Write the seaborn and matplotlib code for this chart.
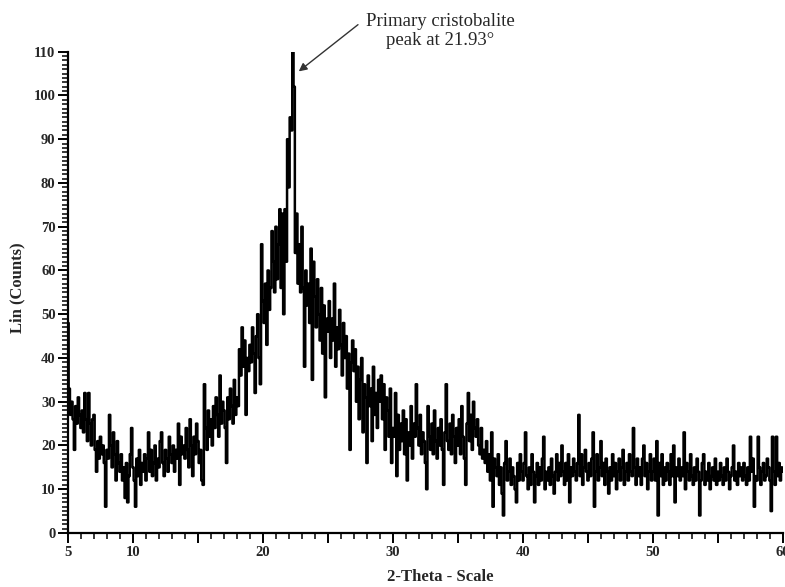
import numpy as np
import pandas as pd
import matplotlib
matplotlib.use("Agg")
import matplotlib.pyplot as plt
from matplotlib.ticker import MultipleLocator, FixedLocator, FuncFormatter
import seaborn as sns

# XRD scan: 2-theta from 5 to 60 deg, 0.1 deg step, one row per degree
theta_start = 5.0
theta_step = 0.1
counts_by_degree = [
    [48, 33, 27, 30, 26, 19, 29, 25, 31, 27],   # 5
    [24, 28, 23, 32, 26, 21, 32, 25, 20, 26],   # 6
    [27, 19, 14, 21, 17, 22, 18, 20, 16, 6],    # 7
    [19, 17, 27, 20, 15, 23, 18, 12, 21, 16],   # 8
    [14, 18, 12, 15, 8, 16, 7, 13, 18, 24],     # 9
    [15, 12, 6, 17, 13, 19, 11, 16, 14, 18],    # 10
    [12, 17, 23, 14, 19, 13, 16, 20, 12, 17],   # 11
    [15, 21, 23, 16, 13, 19, 17, 14, 22, 18],   # 12
    [16, 20, 14, 19, 17, 25, 11, 22, 18, 20],   # 13
    [17, 24, 19, 15, 26, 20, 13, 22, 18, 25],   # 14
    [21, 16, 19, 12, 11, 34, 24, 19, 28, 22],   # 15
    [26, 20, 29, 24, 31, 27, 22, 36, 25, 30],   # 16
    [28, 24, 16, 31, 26, 33, 29, 25, 35, 27],   # 17
    [31, 29, 42, 36, 47, 38, 44, 27, 40, 37],   # 18
    [43, 39, 47, 41, 32, 45, 50, 40, 34, 66],   # 19
    [53, 48, 57, 43, 60, 51, 56, 69, 62, 55],   # 20
    [70, 58, 66, 74, 56, 73, 50, 74, 62, 90],   # 21
    [79, 95, 92, 110, 102, 64, 73, 57, 66, 55], # 22
    [70, 56, 38, 60, 52, 57, 48, 65, 35, 62],   # 23
    [54, 47, 58, 50, 44, 56, 41, 52, 31, 49],   # 24
    [46, 53, 40, 49, 44, 57, 38, 47, 42, 51],   # 25
    [43, 36, 48, 40, 45, 33, 41, 19, 39, 44],   # 26
    [37, 42, 30, 38, 26, 35, 40, 23, 34, 31],   # 27
    [16, 36, 29, 33, 21, 38, 27, 32, 24, 35],   # 28
    [30, 36, 26, 34, 19, 31, 28, 22, 33, 16],   # 29
    [24, 22, 32, 13, 27, 19, 25, 21, 28, 18],   # 30
    [26, 12, 23, 20, 29, 17, 25, 22, 34, 24],   # 31
    [20, 27, 18, 23, 21, 16, 10, 29, 22, 19],   # 32
    [25, 18, 28, 21, 17, 24, 20, 26, 19, 11],   # 33
    [23, 34, 21, 19, 25, 18, 27, 22, 16, 24],   # 34
    [20, 26, 18, 29, 22, 17, 11, 25, 32, 21],   # 35
    [27, 19, 30, 24, 22, 26, 20, 18, 24, 17],   # 36
    [19, 16, 21, 14, 18, 12, 23, 6, 17, 15],    # 37
    [13, 18, 11, 15, 9, 4, 16, 21, 12, 14],     # 38
    [17, 11, 15, 13, 10, 7, 16, 12, 18, 14],    # 39
    [12, 16, 23, 13, 10, 15, 11, 18, 14, 7],    # 40
    [13, 16, 11, 15, 12, 17, 22, 10, 14, 12],   # 41
    [15, 11, 17, 13, 9, 14, 18, 12, 16, 13],    # 42
    [20, 14, 11, 16, 12, 18, 7, 15, 13, 17],    # 43
    [14, 12, 16, 27, 13, 18, 11, 15, 19, 14],   # 44
    [12, 16, 13, 17, 23, 6, 14, 18, 12, 15],    # 45
    [21, 13, 16, 11, 17, 14, 9, 15, 12, 18],    # 46
    [13, 16, 10, 14, 17, 12, 15, 19, 11, 14],   # 47
    [16, 12, 18, 14, 13, 24, 15, 11, 17, 13],   # 48
    [15, 11, 17, 20, 13, 16, 10, 14, 18, 12],   # 49
    [14, 17, 12, 21, 4, 16, 13, 18, 11, 15],    # 50
    [12, 16, 14, 11, 18, 13, 20, 7, 15, 13],    # 51
    [17, 12, 15, 13, 23, 10, 16, 14, 12, 18],   # 52
    [13, 11, 15, 12, 17, 14, 4, 12, 16, 18],    # 53
    [11, 14, 12, 16, 10, 13, 15, 12, 17, 11],   # 54
    [14, 12, 16, 13, 11, 15, 12, 17, 14, 10],   # 55
    [13, 15, 20, 12, 14, 11, 16, 13, 15, 12],   # 56
    [16, 13, 11, 15, 12, 22, 14, 17, 6, 13],    # 57
    [12, 22, 15, 11, 14, 16, 12, 13, 17, 15],   # 58
    [12, 5, 22, 14, 11, 22, 13, 16, 12, 15],    # 59
    [14],                                       # 60
]
x_labels_shown = [5, 10, 20, 30, 40, 50, 60]

counts = [c for row in counts_by_degree for c in row]
two_theta = np.round(theta_start + theta_step * np.arange(len(counts)), 1)
df = pd.DataFrame({"two_theta": two_theta, "counts": counts})

sns.set_style("ticks")
plt.rcParams["font.family"] = ["Liberation Serif", "DejaVu Serif"]

fig = plt.figure(figsize=(7.85, 5.87), dpi=100)
ax = fig.add_axes([68 / 785, 1 - 533 / 587, 715 / 785, 481.3 / 587])

sns.lineplot(data=df, x="two_theta", y="counts", ax=ax, color="black",
             linewidth=1.8, estimator=None, sort=False, drawstyle="steps-mid")

ax.set_xlim(5, 60)
ax.set_ylim(0, 110)
sns.despine(ax=ax)
for s in ("left", "bottom"):
    ax.spines[s].set_linewidth(1.6)
    ax.spines[s].set_color("black")

ax.xaxis.set_major_locator(FixedLocator(list(range(5, 61, 5))))
ax.xaxis.set_minor_locator(MultipleLocator(1))
ax.xaxis.set_major_formatter(FuncFormatter(lambda v, p: f"{int(v)}" if int(round(v)) in x_labels_shown else ""))
ax.yaxis.set_major_locator(MultipleLocator(10))
ax.yaxis.set_minor_locator(MultipleLocator(1))

ax.tick_params(axis="both", which="major", direction="out", length=7, width=1.4,
               color="black", labelsize=10.5, pad=2)
ax.tick_params(axis="both", which="minor", direction="out", length=4, width=1.1, color="black")
for lab in ax.get_xticklabels() + ax.get_yticklabels():
    lab.set_fontweight("bold")

ax.set_xlabel("2-Theta - Scale", fontsize=12, fontweight="bold")
ax.set_ylabel("Lin (Counts)", fontsize=12, fontweight="bold")
ax.xaxis.set_label_coords(0.52, -0.074)
ax.yaxis.set_label_coords(-0.06, 0.51)

ax.annotate("Primary cristobalite\npeak at 21.93°", xy=(22.75, 105.5), xycoords="data",
            xytext=(440 / 785, 1 - 31 / 587), textcoords="figure fraction",
            ha="center", va="center", fontsize=13.5, linespacing=1.1,
            annotation_clip=False,
            arrowprops=dict(arrowstyle="-|>", color="#333333", lw=1.0,
                            mutation_scale=12, relpos=(0, 0.85), shrinkA=4, shrinkB=0))

fig.savefig("out.png", dpi=100, facecolor="white")
